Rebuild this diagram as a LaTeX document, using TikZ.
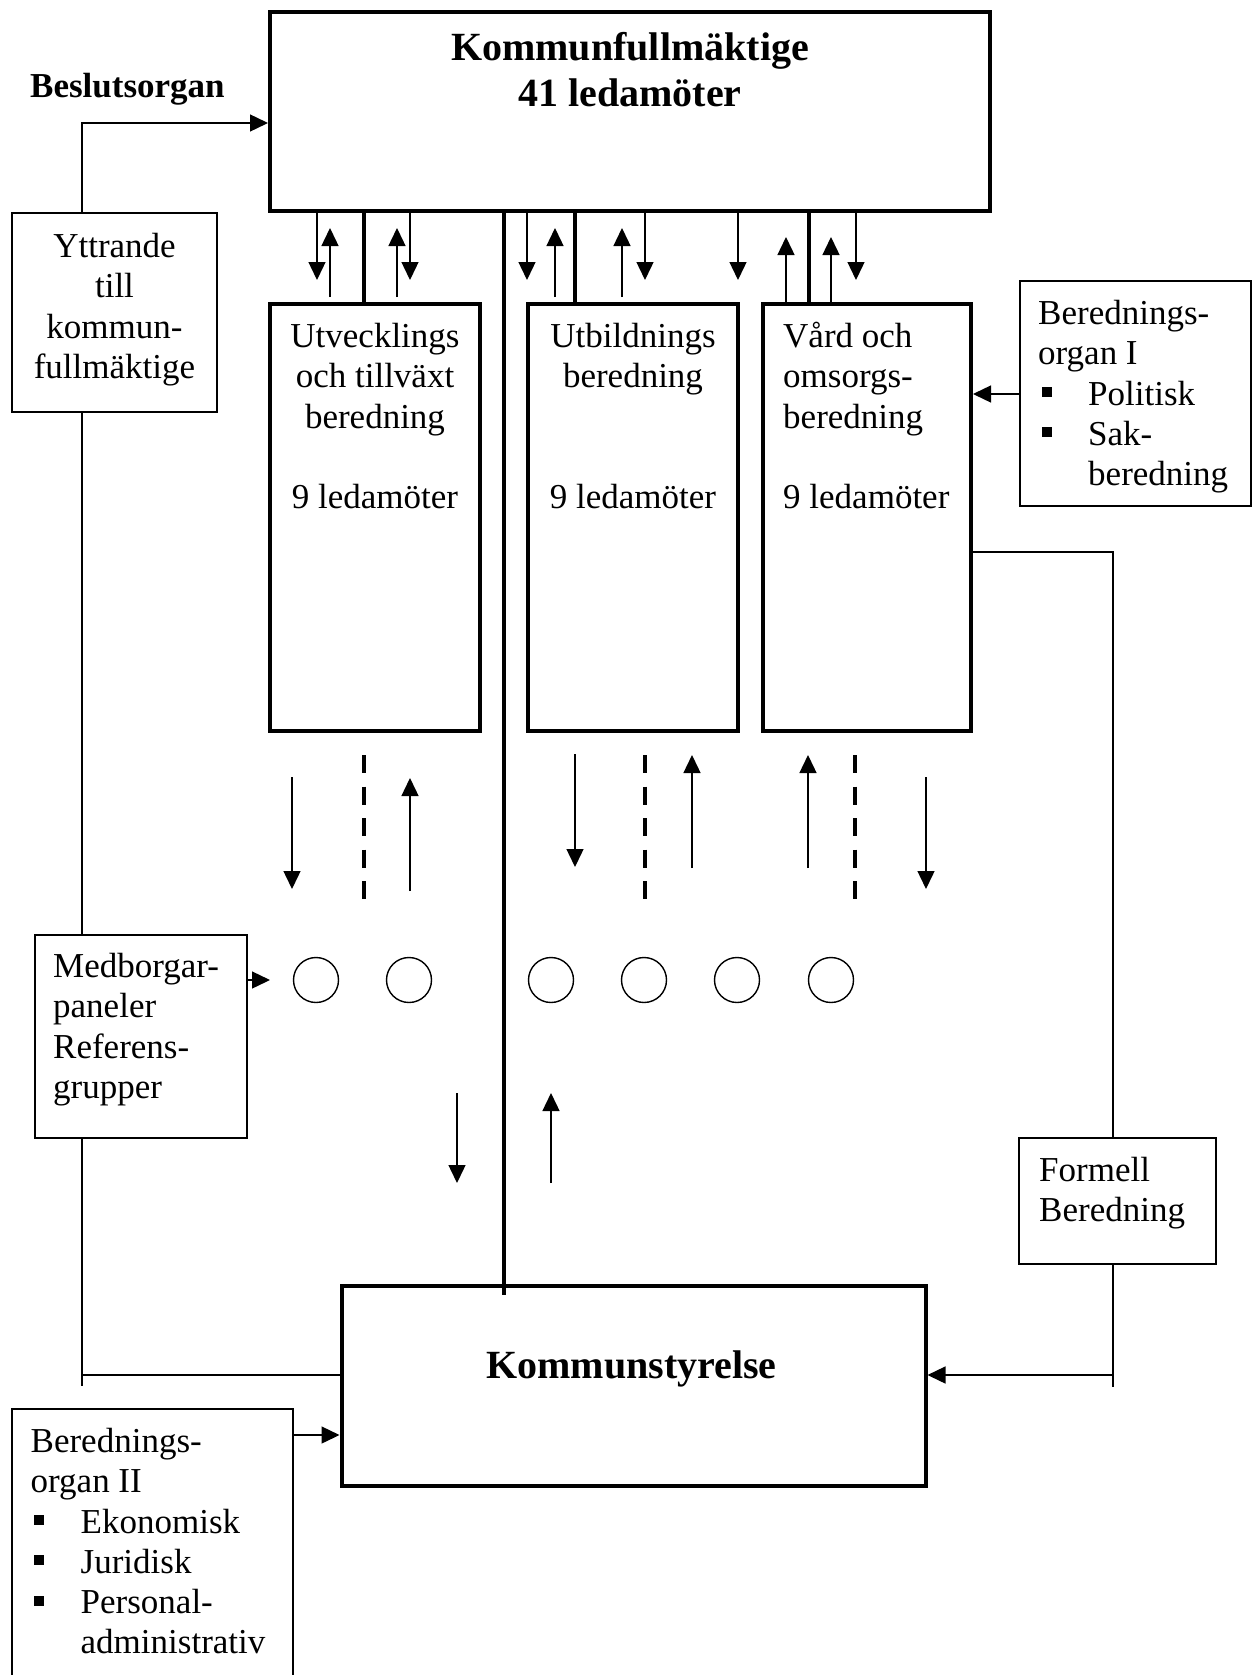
\documentclass[tikz,border=0pt]{standalone}
\usepackage{fontspec}
\setmainfont{Liberation Serif}
\usetikzlibrary{arrows.meta}
% small filled square used as a list bullet
\newcommand\sqbullet{\makebox[50pt][l]{\hspace*{3.5pt}\rule[8pt]{10pt}{10pt}}}
\begin{document}
\begin{tikzpicture}[x=1pt,y=-1pt,
  heavy/.style={draw, line width=4pt, inner sep=0pt},
  light/.style={draw, line width=1.5pt, inner sep=0pt},
  txt/.style={inner sep=0pt, font=\fontsize{35}{40.3}\selectfont},
  ttl/.style={inner sep=0pt, font=\fontsize{40}{46}\selectfont\bfseries},
  link/.style={line width=1.4pt},
  arr/.style={line width=1.4pt, -{Triangle[length=18pt,width=17pt]}},
  bar/.style={line width=4pt},
  dashline/.style={line width=3.5pt, dash pattern=on 18pt off 13.5pt},
  ring/.style={draw, circle, line width=1.4pt, minimum size=45pt, inner sep=0pt}
]
\useasboundingbox (0,0) rectangle (1253,1675);
\clip (0,0) rectangle (1253,1675);

% decision body
\node[heavy, minimum width=720pt, minimum height=199pt] (kf) at (630,111.5) {};
\node[ttl, align=center, anchor=north] (kft) at (630,27.8)
  {\strut Kommunfullmäktige\\41 ledamöter};
\node[txt, anchor=base west] (beslut) at (30,98) {\bfseries Beslutsorgan};

% the three preparatory committees
\node[heavy, minimum width=210pt, minimum height=427pt] (utv) at (375,517.5) {};
\node[txt, align=center, anchor=north] (utvt) at (375,319)
  {\strut Utvecklings\\och tillväxt\\beredning\\[40.3pt]9 ledamöter};
\node[heavy, minimum width=210pt, minimum height=427pt] (utb) at (633,517.5) {};
\node[txt, align=center, anchor=north] (utbt) at (633,319)
  {\strut Utbildnings\\beredning\\[80.6pt]9 ledamöter};
\node[heavy, minimum width=208.5pt, minimum height=427pt] (vard) at (866.75,517.5) {};
\node[txt, align=left, anchor=north west] (vardt) at (783,319)
  {\strut Vård och\\omsorgs-\\beredning\\[40.3pt]9 ledamöter};

% municipal executive board
\node[heavy, minimum width=584pt, minimum height=200pt] (ks) at (633.5,1386) {};
\node[ttl, anchor=base] (kst) at (631.5,1378) {Kommunstyrelse};

% side boxes
\node[light, minimum width=205pt, minimum height=199pt] (ytt) at (114.5,312.5) {};
\node[txt, align=center, anchor=north] (yttt) at (114.5,229)
  {\strut Yttrande\\till\\kommun-\\fullmäktige};

\node[light, minimum width=212pt, minimum height=203pt] (med) at (141,1036.5) {};
\node[txt, align=left, anchor=north west] (medt) at (53,949)
  {\strut Medborgar-\\paneler\\Referens-\\grupper};

\node[light, minimum width=231pt, minimum height=225pt] (bo1) at (1135.5,393.5) {};
\node[txt, align=left, anchor=north west] (bo1t) at (1038,296)
  {\strut Berednings-\\organ I\\\sqbullet Politisk\\\sqbullet Sak-\\\hspace*{50pt}beredning};

\node[light, minimum width=197pt, minimum height=126pt] (form) at (1117.5,1201) {};
\node[txt, align=left, anchor=north west] (formt) at (1039,1153)
  {\strut Formell\\Beredning};

\node[light, minimum width=281pt, minimum height=291pt] (bo2) at (152.5,1554.5) {};
\node[txt, align=left, anchor=north west] (bo2t) at (30.5,1424)
  {\strut Berednings-\\organ II\\\sqbullet Ekonomisk\\\sqbullet Juridisk\\\sqbullet Personal-\\\hspace*{50pt}administrativ};

% citizen panels
\foreach \x [count=\i] in {316,409,551,644,737,831}
  \node[ring] (c\i) at (\x,980) {};

% left-hand connectors
\draw[arr] (82,0 |- ytt.north) |- (kf.west |- 0,123);
\draw[link] (82,0 |- ytt.south) -- (82,0 |- med.north);
\draw[link] (82,0 |- med.south) -- (82,1386);
\draw[link] (82,1375) -- (ks.west |- 0,1375);
\draw[arr] (bo2.east |- 0,1435) -- (ks.west |- 0,1435);
\coordinate (medtip) at (270,980);
\draw[arr] (med.east |- medtip) -- (medtip);

% right-hand connectors
\draw[arr] (bo1.west |- 0,394) -- (vard.east |- 0,394);
\draw[link] (vard.east |- 0,552) -| (1113,0 |- form.north);
\draw[link] (1113,0 |- form.south) -- (1113,1387);
\draw[arr] (1113,1375) -- (ks.east |- 0,1375);

% council to committees
\foreach \x/\b in {364/utv,575/utb,809/vard}
  \draw[bar] (\x,0 |- kf.south) -- (\x,0 |- \b.north);
\draw[line width=3.5pt] (504,0 |- kf.south) -- (504,1295);
\foreach \x in {317,410,527,645,738,856}
  \draw[arr] (\x,0 |- kf.south) -- (\x,280);
\foreach \x in {330,397,555,622}
  \draw[arr] (\x,297) -- (\x,228);
\foreach \x in {786,831}
  \draw[arr] (\x,0 |- vard.north) -- (\x,237);

% committees to panels
\draw[arr] (292,777) -- (292,889);
\draw[arr] (926,777) -- (926,889);
\draw[arr] (575,754) -- (575,867);
\draw[arr] (410,891) -- (410,778);
\draw[arr] (692,868) -- (692,755);
\draw[arr] (808,868) -- (808,755);
\foreach \x in {364,645,855}
  \draw[dashline] (\x,755) -- (\x,900);

% panels to executive board
\draw[arr] (457,1093) -- (457,1183);
\draw[arr] (551,1183) -- (551,1093);
\end{tikzpicture}
\end{document}
